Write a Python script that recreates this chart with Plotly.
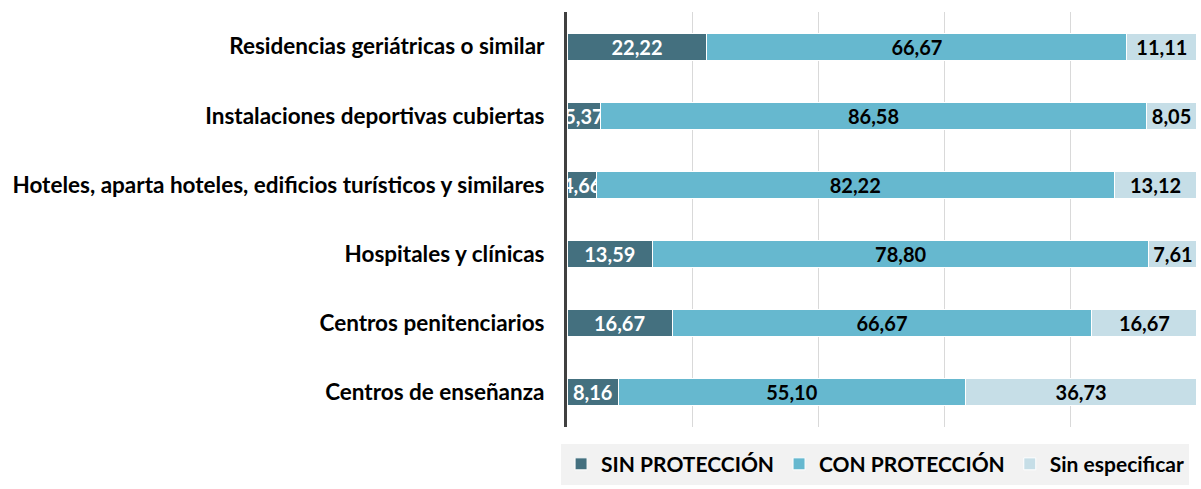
import plotly.graph_objects as go

categories = [
    "Residencias geriátricas o similar",
    "Instalaciones deportivas cubiertas",
    "Hoteles, aparta hoteles, edificios turísticos y similares",
    "Hospitales y clínicas",
    "Centros penitenciarios",
    "Centros de enseñanza",
]
sin_proteccion = [22.22, 5.37, 4.66, 13.59, 16.67, 8.16]
con_proteccion = [66.67, 86.58, 82.22, 78.80, 66.67, 55.10]
sin_especificar = [11.11, 8.05, 13.12, 7.61, 16.67, 36.73]

series = [
    ("SIN PROTECCIÓN", sin_proteccion, "#44707f", "white"),
    ("CON PROTECCIÓN", con_proteccion, "#66b8cf", "black"),
    ("Sin especificar", sin_especificar, "#c6dee7", "black"),
]

FONT = "Lato"

fig = go.Figure()
for name, vals, color, tcolor in series:
    fig.add_trace(go.Bar(
        y=categories, x=vals, name=name, orientation="h",
        marker=dict(color=color, line=dict(color="white", width=1)),
        text=[f"{v:.2f}".replace(".", ",") for v in vals],
        textposition="inside", insidetextanchor="middle",
        textfont=dict(color=tcolor, size=20, family=FONT, weight="bold"),
        cliponaxis=False,
    ))

fig.update_layout(
    barmode="stack", bargap=0.61,
    width=1201, height=489,
    margin=dict(l=567, r=4, t=12, b=59),
    paper_bgcolor="white", plot_bgcolor="white",
    font=dict(family=FONT, size=20, color="black", weight="bold"),
    uniformtext=dict(minsize=20, mode="show"),
    showlegend=True,
    legend=dict(orientation="h", x=0.489, xanchor="center", y=-0.139, yanchor="bottom",
                bgcolor="#f2f2f2", font=dict(size=21, family=FONT, weight="bold"),
                traceorder="normal", itemwidth=30),
    xaxis=dict(range=[0, 100.02], tickvals=[0, 20, 40, 60, 80, 100], showticklabels=False,
               showgrid=True, gridcolor="#d9d9d9", gridwidth=1, zeroline=False, fixedrange=True),
    yaxis=dict(autorange="reversed", showline=True, linecolor="#404040", linewidth=3,
               ticks="", ticklabelstandoff=15, showgrid=False, fixedrange=True,
               tickfont=dict(size=22.5, family=FONT, weight="bold", color="black")),
)

fig.write_html("out.html", config={"displayModeBar": False},
               post_script="document.body.style.margin='0';")
